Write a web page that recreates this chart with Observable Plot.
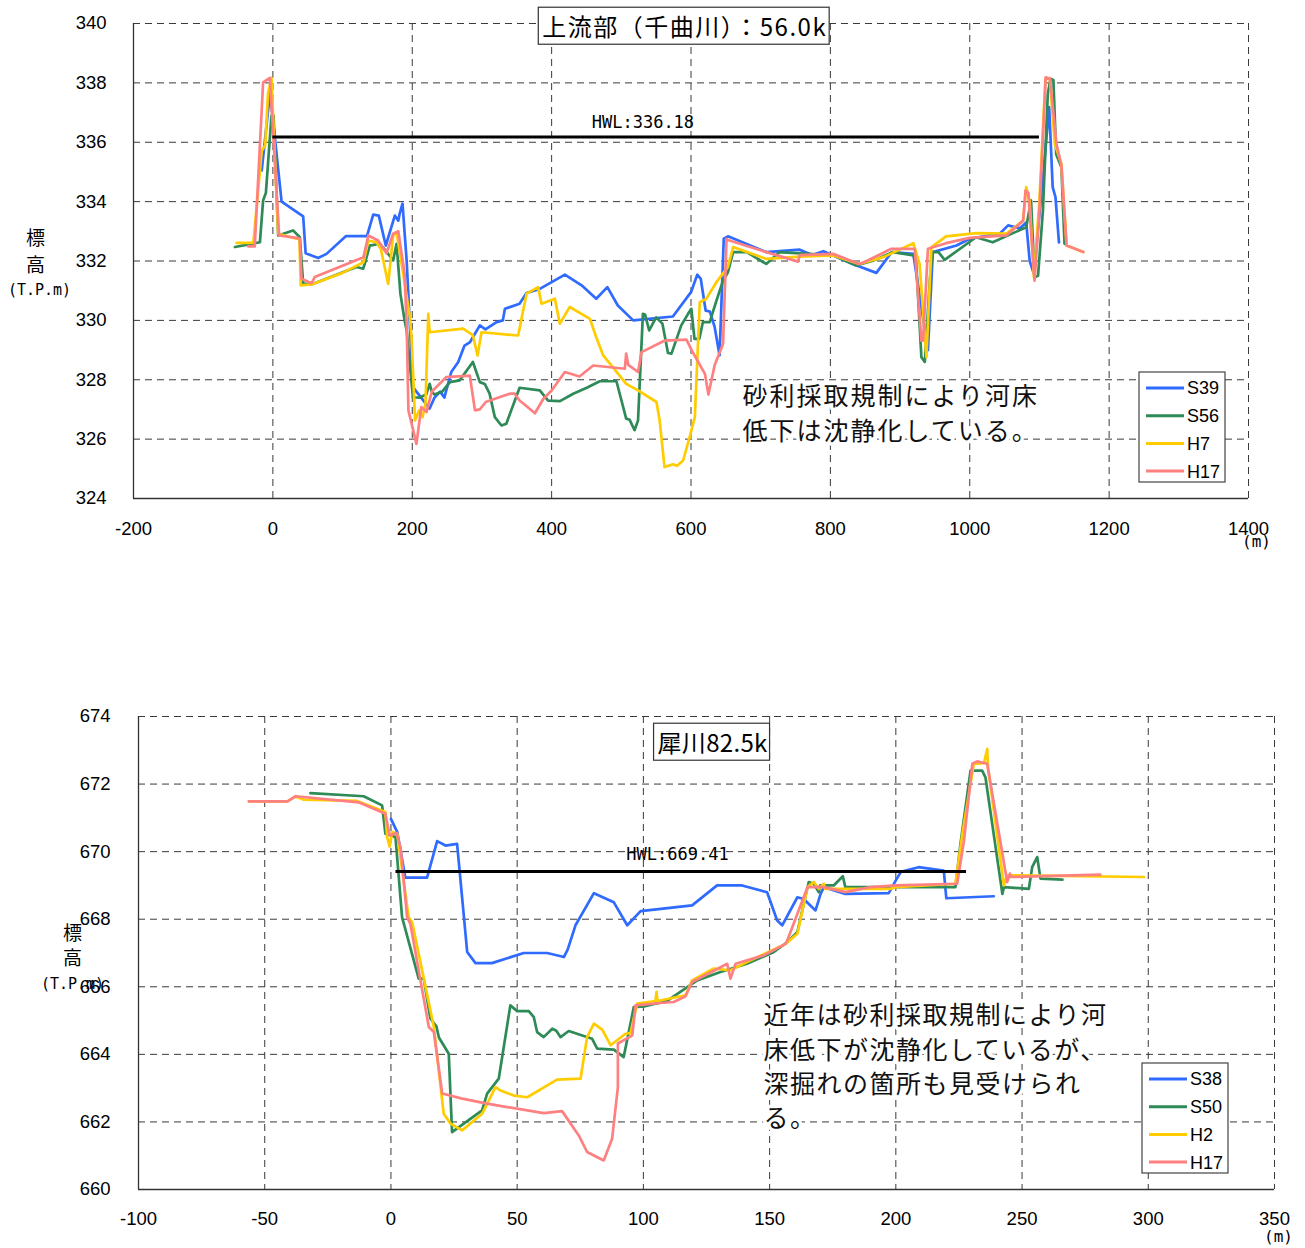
<!DOCTYPE html>
<html><head><meta charset="utf-8">
<script src="https://cdn.jsdelivr.net/npm/d3@7"></script>
<script src="https://cdn.jsdelivr.net/npm/@observablehq/plot@0.6"></script>
<style>
body{margin:0;background:#fff;width:1305px;height:1248px;overflow:hidden}
svg{display:block}
</style>
</head><body><div id="c"></div>
<script>
// ---------- Upper panel: 上流部（千曲川）56.0k ----------
const topTitle = "上流部（千曲川）：56.0k";
const topXTicks = [-200, 0, 200, 400, 600, 800, 1000, 1200, 1400];
const topYTicks = [324, 326, 328, 330, 332, 334, 336, 338, 340];
const topHWL = 336.18;
const topHWLRange = [0, 1100];
const topNames = ["S39", "S56", "H7", "H17"];
const topS39 = [[-16,335.05],[-4,337.7],[12.5,334.0],[43.5,333.5],[47,332.26],[65,332.1],[77,332.24],[105,332.84],[135,332.84],[144,333.56],[152,333.53],[162,332.52],[175,333.53],[180,333.36],[182,333.6],[186,333.93],[192,332.0],[201,327.75],[211,327.45],[225,327.03],[232,327.4],[240,327.6],[246,327.4],[256,328.26],[266,328.6],[275,329.15],[283,329.27],[297,329.83],[305,329.7],[321,329.94],[330,330.0],[333,330.39],[354,330.56],[364,330.92],[383,331.06],[419,331.54],[443,331.18],[464,330.73],[480,331.12],[495,330.5],[517,330.0],[574,330.13],[600,330.95],[609,331.54],[614,331.4],[621,330.33],[627,330.3],[634,329.77],[641,328.82],[647,332.75],[653,332.83],[708,332.3],[756,332.38],[774,332.2],[790,332.33],[832,331.9],[866,331.6],[888,332.3],[919,332.24],[940,329.0],[947,332.3],[981,332.52],[1000,332.75],[1043,332.92],[1055,333.2],[1072,333.1],[1081,333.3],[1086,332.0],[1092,331.57],[1105,334.82],[1114,337.18],[1119,334.49],[1123,334.15],[1128,332.63]];
const topS56 = [[-54.5,332.47],[-18.6,332.63],[-14,334.04],[-10,334.3],[-2,336.9],[1,336.9],[7.6,332.86],[29,333.03],[38.7,332.8],[43.5,331.23],[58,331.23],[120,331.8],[129.6,331.74],[133,332.0],[139,332.52],[153.5,332.58],[160,332.4],[172.6,332.02],[177.5,332.58],[183,330.9],[189,330.0],[192,329.66],[201,327.41],[211,327.4],[220,327.5],[225,327.86],[228,327.6],[232,327.5],[243,327.6],[254,327.92],[268,327.98],[287,328.6],[297,327.92],[304,327.86],[311,327.53],[318.5,326.74],[328,326.46],[335,326.52],[354,327.73],[383,327.64],[395,327.3],[412,327.28],[431,327.53],[452,327.75],[469,327.95],[493,327.95],[507,326.69],[512,326.65],[519,326.3],[524,326.63],[531,330.22],[534,330.2],[540,329.66],[550,330.1],[559,329.89],[567,328.9],[572,328.88],[586,329.83],[595.8,330.22],[600.5,330.39],[605,329.38],[612,329.38],[617,329.94],[627,329.94],[632,330.33],[637,330.7],[646,331.34],[653,331.62],[660.5,332.3],[680,332.3],[708,331.9],[727,332.3],[804,332.19],[837,331.85],[860,332.0],[890,332.3],[919,332.19],[923,332.0],[930.6,328.76],[935.5,328.6],[943,331.45],[947,332.3],[955,332.3],[964,332.04],[1009,332.8],[1033,332.63],[1081,333.14],[1088,334.04],[1093,331.45],[1098,331.5],[1105,333.7],[1112,337.63],[1116,338.14],[1120,338.1],[1124,335.6],[1131.5,335.16],[1136,332.58]];
const topH7 = [[-52,332.61],[-28,332.61],[-16,335.7],[-11,335.9],[-7,337.63],[-2,338.17],[7.6,332.92],[34,332.75],[38,332.75],[40,331.18],[55.5,331.21],[100,331.6],[130,331.96],[137,332.69],[148.7,332.63],[155,332.4],[165.5,331.23],[172.6,332.86],[177.5,332.97],[187,331.57],[196.6,330.1],[199,329.43],[204,326.63],[210,326.97],[214.7,326.74],[219,327.19],[223,330.22],[225,329.6],[273,329.72],[287,329.5],[293.7,328.82],[299.4,329.6],[352,329.49],[364,330.9],[380.6,331.12],[385.5,330.56],[404.6,330.73],[411.8,329.89],[426,330.45],[455,330.05],[464,329.43],[474,328.82],[488,328.42],[507,327.86],[524,327.64],[550.5,327.25],[555,326.63],[562,325.06],[574,325.15],[580,325.1],[588.7,325.28],[598,326.07],[605.5,326.74],[612.6,330.61],[622,330.73],[636.6,331.29],[653,331.8],[660.5,332.47],[708,332.07],[756,332.15],[804,332.19],[841.5,331.9],[876,332.13],[919,332.6],[928,331.9],[937.8,328.76],[945,332.47],[966,332.83],[1009.6,332.94],[1052.6,332.92],[1076.6,333.36],[1081,334.49],[1086,334.0],[1092,331.45],[1100,334.04],[1108.6,338.14],[1115,338.14],[1122,335.95],[1131.5,335.27],[1139,332.52],[1163,332.3]];
const topH17 = [[-35.4,332.49],[-26,332.49],[-14,338.02],[-4.3,338.17],[9,332.86],[34,332.78],[38.7,332.75],[41,331.4],[55.5,331.25],[60,331.46],[130,332.13],[137,332.86],[151,332.69],[163,332.26],[172.6,332.92],[180,333.0],[189,331.57],[192,329.9],[194.5,326.97],[206,325.84],[213,327.08],[220.5,326.91],[228,327.6],[249,328.09],[282.6,328.14],[290,326.97],[297,327.0],[305.6,327.25],[330,327.45],[340,327.53],[347,327.53],[354,327.3],[362,327.15],[376,326.87],[388,327.35],[400,327.64],[419,328.26],[440,328.11],[459.6,328.48],[505,328.37],[507,328.88],[510,328.5],[524,328.26],[529,328.93],[562.4,329.32],[593.5,329.35],[602,328.95],[620,328.2],[625,327.5],[634,328.5],[646,329.21],[651,332.75],[653,332.71],[708,332.3],[753.6,331.98],[756,332.2],[804,332.24],[841.5,331.9],[852,332.0],[887.5,332.41],[921,332.41],[930.6,329.32],[933,329.32],[940,332.41],[966,332.6],[1000,332.78],[1052.6,332.86],[1076.6,333.36],[1080,334.37],[1084,334.3],[1093,331.34],[1100,333.7],[1109,338.19],[1115,338.14],[1124.4,335.95],[1131.5,335.22],[1139,332.52],[1163,332.3]];
const topNote = ["砂利採取規制により河床", "低下は沈静化している。"];

// ---------- Lower panel: 犀川82.5k ----------
const botTitle = "犀川82.5k";
const botXTicks = [-100, -50, 0, 50, 100, 150, 200, 250, 300, 350];
const botYTicks = [660, 662, 664, 666, 668, 670, 672, 674];
const botHWL = 669.41;
const botHWLRange = [2, 228];
const botNames = ["S38", "S50", "H2", "H17"];
const botS38 = [[0,670.97],[2.5,670.58],[5.7,669.23],[14.3,669.23],[18.3,670.31],[21.6,670.18],[26.2,670.23],[30.2,667.03],[33.5,666.7],[40,666.7],[52.6,667.0],[61.9,667.0],[68.5,666.88],[70,667.1],[73.1,667.82],[80.4,668.77],[88.3,668.5],[93.6,667.82],[98.9,668.24],[119.3,668.41],[129.2,669.0],[139.1,669.0],[149,668.8],[153,667.96],[155,667.82],[161,668.65],[163.5,668.6],[168.2,668.26],[170.2,668.75],[171.5,668.95],[180,668.75],[197.2,668.77],[200,669.15],[202,669.4],[209,669.54],[219,669.44],[220,668.62],[238.8,668.68]];
const botS50 = [[-31.9,671.73],[-10.8,671.64],[-3.5,671.37],[-2.2,670.53],[0,670.48],[1.8,670.43],[4.4,668.06],[11,666.24],[13,666.24],[15.6,665.06],[18,664.83],[19,664.5],[22.9,664.02],[24.2,661.7],[36.1,662.34],[38.1,662.84],[42.7,663.28],[47.3,665.45],[50,665.28],[54.6,665.28],[56.6,665.1],[57.9,664.66],[60.5,664.51],[63.9,664.76],[65.5,664.7],[67.2,664.51],[70.4,664.69],[79.7,664.46],[81.7,664.17],[88.3,664.14],[92.2,663.92],[96.2,665.4],[100.2,665.42],[109.4,665.58],[121.3,666.19],[130.5,666.44],[141,666.68],[151.7,667.03],[157,667.32],[161,667.62],[165.5,669.1],[167.5,669.05],[169.5,668.8],[170,669.0],[175.4,669.0],[179,669.27],[180,668.95],[190,668.95],[200,668.95],[223.6,668.95],[225.6,670.23],[229.6,672.4],[234.2,672.4],[235.5,672.2],[242.2,668.75],[242.8,668.95],[252.7,668.9],[254,669.54],[256,669.84],[257.3,669.2],[266,669.17]];
const botH2 = [[-56.3,671.49],[-41,671.49],[-37.8,671.63],[-34.5,671.54],[-13.4,671.5],[-2.2,671.17],[-1.5,670.43],[-0.5,670.15],[0.5,670.58],[2.5,670.53],[7,668.06],[8.4,667.91],[17,664.81],[20.9,662.24],[23.6,661.95],[28.2,661.75],[36.1,662.24],[41.4,663.03],[43.4,662.93],[48.7,662.78],[54,662.73],[65.8,663.25],[75.1,663.28],[77.7,664.51],[80.4,664.91],[83.7,664.73],[87,664.27],[92.9,664.61],[94.9,664.63],[97.5,665.5],[104.8,665.58],[105.2,665.85],[105.6,665.58],[116.7,665.75],[119.3,666.19],[127.9,666.54],[134.5,666.49],[141,666.73],[156.3,667.27],[161,667.57],[165,668.95],[167.5,669.1],[169.5,668.9],[171.5,669.05],[172,668.9],[197.9,668.9],[200,668.95],[223.6,669.05],[226.5,670.6],[230.9,672.6],[234.9,672.62],[236.2,673.04],[236.5,672.5],[242.8,669.0],[244.1,669.3],[298.3,669.25]];
const botH17 = [[-56.3,671.49],[-41,671.49],[-37.8,671.64],[-12.8,671.46],[-2.2,671.12],[-0.5,670.48],[2.2,670.55],[3.8,670.13],[6.4,668.06],[7.7,667.86],[15,664.81],[17,664.66],[20.3,662.84],[28.2,662.69],[38.1,662.54],[60.5,662.26],[67.8,662.32],[74.4,661.6],[77.7,661.11],[84.3,660.86],[87.6,661.5],[89.9,663.03],[89.9,664.32],[95.6,664.56],[96.9,665.45],[106.8,665.52],[112,665.55],[116.7,665.72],[119.3,666.14],[133.2,666.68],[134.5,666.24],[136.5,666.68],[147.7,666.93],[156.3,667.27],[157,667.37],[165,668.95],[171.5,668.95],[180,668.8],[190,668.95],[200,669.0],[224.3,669.05],[227,670.33],[230.3,672.6],[232.2,672.67],[236.2,672.6],[244.1,669.1],[245.2,669.35],[245.4,669.25],[281,669.32]];
const botNote = ["近年は砂利採取規制により河", "床低下が沈静化しているが、", "深掘れの箇所も見受けられ", "る。"];

const yLabelChars = ["標", "高"];
const yUnit = "(T.P.m)";
const xUnit = "(m)";
const colors = ["#2f6bff", "#2e8b57", "#ffcc00", "#ff8080"];

const JP = "'Noto Sans CJK JP', sans-serif";
const MONO = "'DejaVu Sans Mono', monospace";
const SANS = "'Liberation Sans', Arial, sans-serif";

function panel(cfg) {
  const grid = {stroke: "#3a3a3a", strokeOpacity: 1, strokeDasharray: "7,5", strokeWidth: 1};
  const series = [cfg.s1, cfg.s2, cfg.s3, cfg.s4];
  const svg = Plot.plot({
    width: 1305, height: cfg.height,
    marginLeft: cfg.ml, marginRight: cfg.mr, marginTop: cfg.mt, marginBottom: cfg.mb,
    x: {domain: [cfg.xTicks[0], cfg.xTicks[cfg.xTicks.length-1]]},
    y: {domain: [cfg.yTicks[0], cfg.yTicks[cfg.yTicks.length-1]]},
    style: {fontFamily: SANS, color: "#000", background: "#fff"},
    marks: [
      Plot.gridX(cfg.xTicks, grid),
      Plot.gridY(cfg.yTicks, grid),
      Plot.ruleX([cfg.xTicks[0]], {stroke: "#333", strokeWidth: 1.3}),
      Plot.ruleY([cfg.yTicks[0]], {stroke: "#333", strokeWidth: 1.3}),
      Plot.axisX(cfg.xTicks, {tickSize: 0, tickPadding: cfg.xPad, tickFormat: d => String(d), fontSize: 18.5, label: null}),
      Plot.axisY(cfg.yTicks, {tickSize: 0, tickPadding: cfg.yPad, tickFormat: d => String(d), fontSize: 18.5, label: null}),
      ...series.map((s, i) => Plot.line(s, {x: d => d[0], y: d => d[1], stroke: colors[i], strokeWidth: 2.7, strokeLinejoin: "round"})),
      Plot.ruleY([cfg.hwl], {x1: cfg.hwlRange[0], x2: cfg.hwlRange[1], stroke: "#000", strokeWidth: 3}),
      Plot.text([`HWL:${cfg.hwl}`], {x: cfg.hwlLabelX, y: cfg.hwl, dy: cfg.hwlDy, fontFamily: MONO, fontSize: 17}),
      Plot.text([cfg.title], {x: cfg.titleX, y: cfg.titleY, fontFamily: JP, fontSize: 24}),
      Plot.text([cfg.note.join("\n")], {x: cfg.noteX, y: cfg.noteY, textAnchor: "start", lineAnchor: "middle", lineHeight: cfg.noteLH, fontFamily: JP, fontSize: 25, fill: "#111", stroke: "white", strokeWidth: 7, paintOrder: "stroke"}),
      Plot.text([yLabelChars[0]], {frameAnchor: "left", textAnchor: "middle", dx: cfg.ylDx, dy: cfg.ylDy[0], fontFamily: JP, fontSize: 19}),
      Plot.text([yLabelChars[1]], {frameAnchor: "left", textAnchor: "middle", dx: cfg.ylDx, dy: cfg.ylDy[1], fontFamily: JP, fontSize: 19}),
      Plot.text([yUnit], {frameAnchor: "left", textAnchor: "middle", dx: cfg.ylDx + cfg.unitShift, dy: cfg.ylDy[2], fontFamily: MONO, fontSize: 15}),
      Plot.text([xUnit], {frameAnchor: "bottom-right", textAnchor: "middle", dx: cfg.unitDx, dy: cfg.unitDy, fontFamily: MONO, fontSize: 16})
    ]
  });
  document.getElementById("c").appendChild(svg);
  const s = d3.select(svg);
  // letter spacing on notes
  s.selectAll("text").filter(function() { return this.textContent.startsWith(cfg.note[0].slice(0, 3)); })
    .attr("letter-spacing", cfg.noteLS + "px");
  // title box
  s.selectAll("text").filter(function() { return this.textContent === cfg.title; }).each(function() {
    d3.select(this).attr("letter-spacing", cfg.titleLS + "px");
    const b = this.getBBox();
    const r = d3.select(this.parentNode).insert("rect", () => this)
      .attr("x", b.x - 4).attr("y", b.y - 1).attr("width", b.width + 6).attr("height", b.height + 2)
      .attr("fill", "#fff").attr("stroke", "#333").attr("stroke-width", 1.2);
    const t = this.getAttribute("transform");
    if (t) r.attr("transform", t);
  });
  // legend box
  const L = cfg.legend;
  const g = s.append("g").attr("text-anchor", "start");
  g.append("rect").attr("x", L.x).attr("y", L.y).attr("width", L.w).attr("height", L.h)
    .attr("fill", "#fff").attr("stroke", "#444").attr("stroke-width", 1.2);
  cfg.names.forEach((n, i) => {
    const yy = L.y + 16 + i * 27.7;
    g.append("line").attr("x1", L.x + 7).attr("x2", L.x + 45).attr("y1", yy).attr("y2", yy)
      .attr("stroke", colors[i]).attr("stroke-width", 3);
    g.append("text").attr("x", L.x + 48).attr("y", yy).attr("dy", "0.36em")
      .attr("text-anchor", "start")
      .attr("font-family", SANS).attr("font-size", 18).text(n);
  });
}

panel({
  height: 600, ml: 133, mr: 57, mt: 23, mb: 102,
  xTicks: topXTicks, yTicks: topYTicks, xPad: 23, yPad: 27,
  s1: topS39, s2: topS56, s3: topH7, s4: topH17, names: topNames,
  hwl: topHWL, hwlRange: topHWLRange, hwlLabelX: 531, hwlDy: -14,
  title: topTitle, titleX: 591, titleY: 339.83, titleLS: 1.5,
  note: topNote, noteX: 674, noteY: 326.95, noteLH: 1.4, noteLS: 2,
  ylDx: -98, ylDy: [-22.5, 4.5, 29.5], unitShift: 4, unitDx: 8, unitDy: 48,
  legend: {x: 1139, y: 372, w: 86, h: 110}
});
panel({
  height: 648, ml: 138, mr: 31, mt: 116, mb: 59,
  xTicks: botXTicks, yTicks: botYTicks, xPad: 22, yPad: 28,
  s1: botS38, s2: botS50, s3: botH2, s4: botH17, names: botNames,
  hwl: botHWL, hwlRange: botHWLRange, hwlLabelX: 113.5, hwlDy: -17,
  title: botTitle, titleX: 127.4, titleY: 673.17, titleLS: 0.3,
  note: botNote, noteX: 147.6, noteY: 663.69, noteLH: 1.37, noteLS: 1.5,
  ylDx: -66, ylDy: [-19.5, 5.5, 31.5], unitShift: 0, unitDx: 4, unitDy: 52,
  legend: {x: 1142, y: 463, w: 86, h: 110}
});
</script>
</body></html>
